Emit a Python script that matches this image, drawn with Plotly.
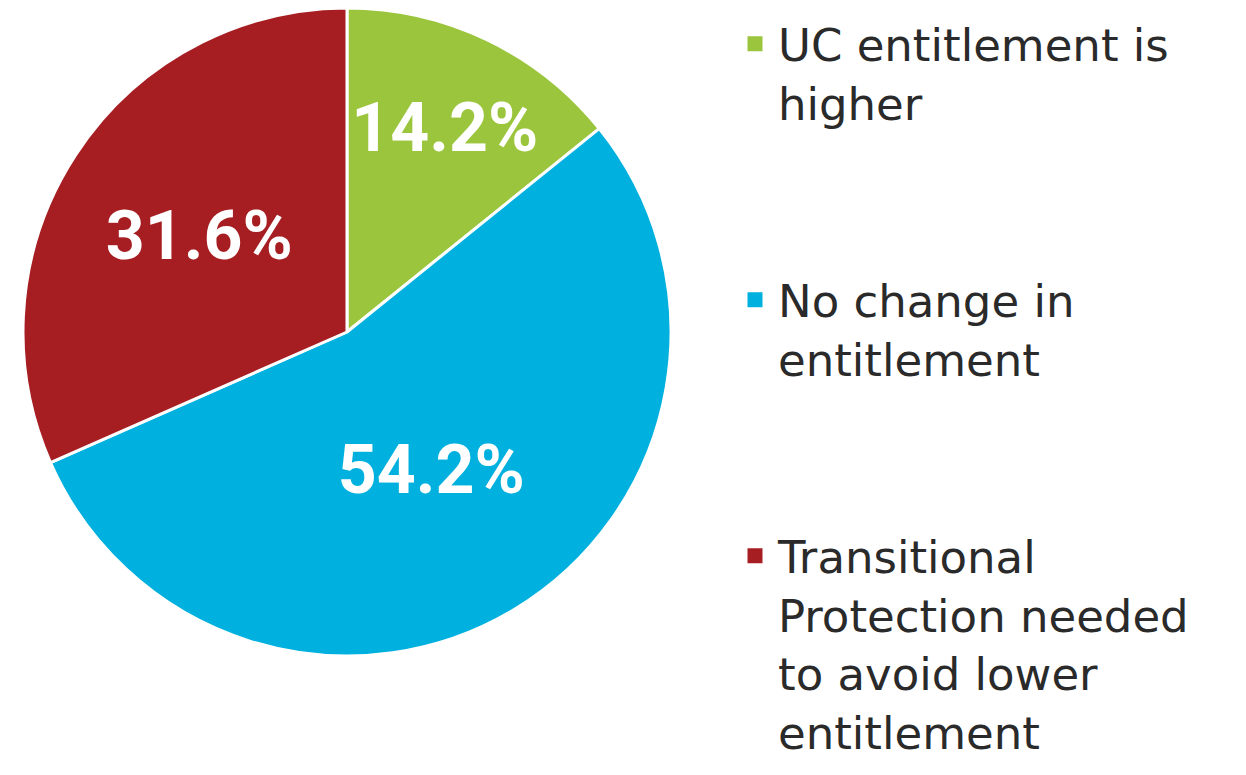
import plotly.graph_objects as go

labels = ["UC entitlement is<br>higher", "No change in<br>entitlement",
          "Transitional<br>Protection needed<br>to avoid lower<br>entitlement"]
values = [14.2, 54.2, 31.6]
colors = ["#9BC53D", "#00B0DE", "#A61E22"]

W, H = 1238, 767

fig = go.Figure()
fig.add_trace(go.Pie(
    labels=labels,
    values=values,
    sort=False,
    direction="clockwise",
    rotation=0,
    marker=dict(colors=colors, line=dict(color="white", width=3)),
    texttemplate="%{value:.1f}%",
    textposition="inside",
    insidetextorientation="horizontal",
    textfont=dict(family="Roboto", size=68, color="white", weight="bold"),
    domain=dict(x=[15 / W, 663 / W], y=[(H - 648) / H, 1.0]),
    hoverinfo="label+percent",
    showlegend=False,
))

# legend entries (one per category), sharing the pie colours
for i, (lab, col) in enumerate(zip(labels, colors)):
    fig.add_trace(go.Scatter(
        x=[None], y=[None], mode="markers", name=lab,
        legendgroup=f"g{i}",
        marker=dict(symbol="square", size=15, color=col),
        showlegend=True, hoverinfo="skip",
    ))

fig.update_layout(
    width=W, height=H,
    margin=dict(l=0, r=0, t=0, b=0),
    paper_bgcolor="white", plot_bgcolor="white",
    xaxis=dict(visible=False), yaxis=dict(visible=False),
    showlegend=True,
    legend=dict(
        x=724 / W, y=1.0, xanchor="left", yanchor="top",
        valign="top", traceorder="grouped", tracegroupgap=136,
        font=dict(family="DejaVu Sans", size=45, color="#2a2a2a"),
        itemwidth=36,
        bgcolor="rgba(0,0,0,0)",
    ),
    uniformtext=dict(minsize=68, mode="show"),
)

fig.write_html("out.html")
